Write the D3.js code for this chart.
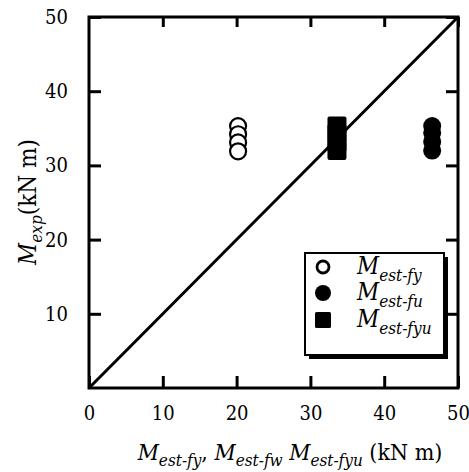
<!DOCTYPE html>
<html>
<head>
<meta charset="utf-8">
<script src="https://cdn.jsdelivr.net/npm/d3@7"></script>
<style>
  body { margin: 0; background: #fff; }
</style>
</head>
<body>
<div id="chart"></div>
<script>
// values
var xTicks = [10, 20, 30, 40, 50];
var yTicks = [10, 20, 30, 40, 50];

// open circles: M_est-fy vs M_exp
var fyX = [20.2, 20.2, 20.2, 20.2];
var fyY = [35.3, 34.2, 33.1, 31.9];
// filled circles: M_est-fu
var fuX = [46.5, 46.5, 46.5, 46.5];
var fuY = [35.3, 34.4, 33.2, 32.0];
// filled squares: M_est-fyu
var fyuX = [33.6, 33.6, 33.6, 33.6];
var fyuY = [35.3, 34.3, 33.1, 32.0];

var legendSubs = ["est-fy", "est-fu", "est-fyu"];

var serif = "'DejaVu Serif Condensed', 'DejaVu Serif', serif";

var margin = { top: 17, right: 11, bottom: 84, left: 89 },
  width = 469 - margin.left - margin.right,
  height = 472 - margin.top - margin.bottom;

var svg = d3.select("#chart").append("svg")
  .attr("width", 469)
  .attr("height", 472)
  .attr("font-family", serif);

var g = svg.append("g")
  .attr("transform", "translate(" + margin.left + "," + margin.top + ")");

var x = d3.scaleLinear().domain([0, 50]).range([0, width]);
var y = d3.scaleLinear().domain([0, 50]).range([height, 0]);

// diagonal 1:1 line
g.append("line")
  .attr("x1", x(0)).attr("y1", y(0))
  .attr("x2", x(50)).attr("y2", y(50))
  .attr("stroke", "#000").attr("stroke-width", 3);

// ticks pointing inwards on all four sides
var tickLen = 12;
function ticks(sel) {
  sel.attr("font-family", serif);
  sel.selectAll("path.domain").remove();
  sel.selectAll("line").attr("stroke", "#000").attr("stroke-width", 3);
  sel.selectAll("text").attr("fill", "#000").style("font-size", "20px");
}

g.append("g")
  .attr("transform", "translate(0," + height + ")")
  .call(d3.axisBottom(x).tickValues([0].concat(xTicks)).tickSize(-tickLen).tickPadding(18).tickFormat(d3.format("d")))
  .call(ticks);
g.append("g")
  .call(d3.axisTop(x).tickValues(xTicks).tickSize(-10).tickFormat(""))
  .call(ticks);
g.append("g")
  .call(d3.axisLeft(y).tickValues(yTicks).tickSize(-tickLen).tickPadding(21).tickFormat(d3.format("d")))
  .call(ticks);
g.append("g")
  .attr("transform", "translate(" + width + ",0)")
  .call(d3.axisRight(y).tickValues(yTicks).tickSize(-tickLen).tickFormat(""))
  .call(ticks);

// frame
g.append("rect")
  .attr("width", width).attr("height", height)
  .attr("fill", "none").attr("stroke", "#000").attr("stroke-width", 3);

// markers
var r = 8;
g.selectAll(".fy").data(fyX).enter().append("circle")
  .attr("cx", function (d) { return x(d); })
  .attr("cy", function (d, i) { return y(fyY[i]); })
  .attr("r", r).attr("fill", "#fff").attr("stroke", "#000").attr("stroke-width", 2.2);

g.selectAll(".fu").data(fuX).enter().append("circle")
  .attr("cx", function (d) { return x(d); })
  .attr("cy", function (d, i) { return y(fuY[i]); })
  .attr("r", r + 1).attr("fill", "#000");

var s = 19;
g.selectAll(".fyu").data(fyuX).enter().append("rect")
  .attr("x", function (d) { return x(d) - s / 2; })
  .attr("y", function (d, i) { return y(fyuY[i]) - s / 2; })
  .attr("width", s).attr("height", s).attr("rx", 2)
  .attr("fill", "#000");

// legend with drop shadow
var lx = 305, ly = 253, lw = 139, lh = 102;
svg.append("rect")
  .attr("x", lx + 4).attr("y", ly + 4).attr("width", lw).attr("height", lh)
  .attr("fill", "#000");
svg.append("rect")
  .attr("x", lx).attr("y", ly).attr("width", lw).attr("height", lh)
  .attr("fill", "#fff").attr("stroke", "#000").attr("stroke-width", 2);

var rowY = [267, 293, 320];
svg.append("circle").attr("cx", 323).attr("cy", rowY[0]).attr("r", 6)
  .attr("fill", "#fff").attr("stroke", "#000").attr("stroke-width", 2.8);
svg.append("circle").attr("cx", 323).attr("cy", rowY[1]).attr("r", 8).attr("fill", "#000");
svg.append("rect").attr("x", 315).attr("y", rowY[2] - 8).attr("width", 16).attr("height", 16)
  .attr("rx", 1.5).attr("fill", "#000");

legendSubs.forEach(function (sub, i) {
  var t = svg.append("text")
    .attr("x", 357).attr("y", rowY[i] + 7)
    .style("font-size", "24px").style("font-style", "italic");
  t.append("tspan").text("M");
  t.append("tspan").attr("dy", 7).style("font-size", "17px").text(sub);
});

// x axis title
var xt = svg.append("text")
  .attr("x", 290).attr("y", 460)
  .attr("text-anchor", "middle")
  .style("font-size", "23px");
[["est-fy", ", "], ["est-fw", " "], ["est-fyu", " "]].forEach(function (p) {
  xt.append("tspan").style("font-style", "italic").text("M");
  xt.append("tspan").style("font-style", "italic").style("font-size", "17px").attr("dy", 6).text(p[0]);
  xt.append("tspan").attr("dy", -6).text(p[1]);
});
xt.append("tspan").text("(kN m)");

// y axis title
var yt = svg.append("text")
  .attr("transform", "translate(36,202) rotate(-90)")
  .attr("text-anchor", "middle")
  .style("font-size", "24px");
yt.append("tspan").style("font-style", "italic").text("M");
yt.append("tspan").style("font-style", "italic").style("font-size", "17px").attr("dy", 6).text("exp");
yt.append("tspan").attr("dy", -6).text("(kN m)");
</script>
</body>
</html>
